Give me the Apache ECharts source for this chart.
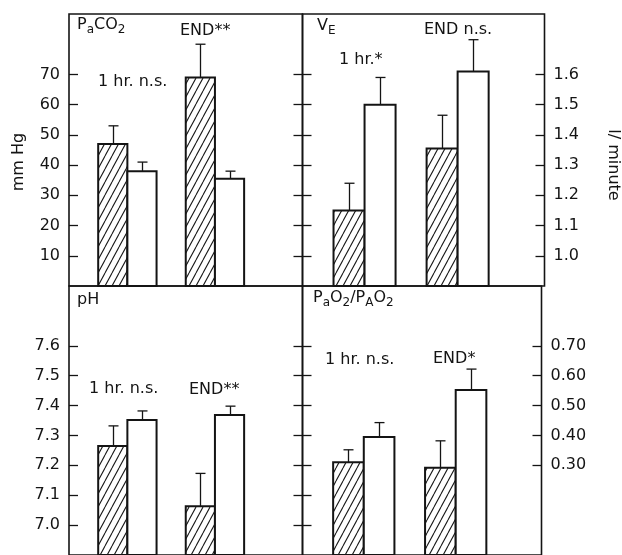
<!DOCTYPE html>
<html><head><meta charset="utf-8">
<script src="https://cdn.jsdelivr.net/npm/echarts@6/dist/echarts.min.js"></script>
<style>html,body{margin:0;padding:0;background:#fff}#c{width:622px;height:555px}</style>
</head><body><div id="c"></div>
<script>
// ---------- data ----------
const categories = ['1 hr', 'END'];
// PaCO2 (mm Hg)
const paco2Hatched = [47, 69];
const paco2HatchedSD = [6, 11];
const paco2Open = [38, 35.5];
const paco2OpenSD = [3, 2.5];
// VE (l/minute)
const veHatched = [1.15, 1.355];
const veHatchedSD = [0.09, 0.11];
const veOpen = [1.50, 1.61];
const veOpenSD = [0.09, 0.105];
// pH
const phHatched = [7.265, 7.063];
const phHatchedSD = [0.067, 0.11];
const phOpen = [7.352, 7.368];
const phOpenSD = [0.03, 0.03];
// PaO2/PAO2
const ratioHatched = [0.31, 0.292];
const ratioHatchedSD = [0.042, 0.09];
const ratioOpen = [0.395, 0.552];
const ratioOpenSD = [0.048, 0.07];
// tick values
const paco2Ticks = [10, 20, 30, 40, 50, 60, 70];
const veTicks = [1.0, 1.1, 1.2, 1.3, 1.4, 1.5, 1.6];
const phTicks = [7.0, 7.1, 7.2, 7.3, 7.4, 7.5, 7.6];
const ratioLabelTicks = [0.30, 0.40, 0.50, 0.60, 0.70];
const ratioMidTicks = [0.1, 0.2, 0.3, 0.4, 0.5, 0.6, 0.7];

// ---------- style / layout ----------
const FONT = '"DejaVu Sans", "Liberation Sans", Arial, sans-serif';
const INK = '#141414';
const GROUP_X = [2, 5];   // group centre on the hidden x scale
const BAR_W = 1;

function makeHatch() {
  const c = document.createElement('canvas');
  const w = 7, h = 13;
  c.width = w; c.height = h;
  const g = c.getContext('2d');
  g.fillStyle = '#fff'; g.fillRect(0, 0, w, h);
  g.strokeStyle = '#1a1a1a'; g.lineWidth = 1.1;
  g.beginPath();
  for (let k = -1; k <= 1; k++) { g.moveTo(k * w, h); g.lineTo(k * w + w, 0); }
  g.stroke();
  return c;
}
const hatch = { image: makeHatch(), repeat: 'repeat' };

function barRender(kind, base) {
  return function (params, api) {
    const idx = api.value(0), v = api.value(1), sd = api.value(2);
    const cx = GROUP_X[idx];
    const x0 = kind === 0 ? cx - BAR_W : cx;
    const pTop = api.coord([x0, v]);
    const pBot = api.coord([x0 + BAR_W, base]);
    const pErr = api.coord([x0 + BAR_W / 2, v + sd]);
    const xm = Math.round(pErr[0]) + 0.5;
    return {
      type: 'group',
      children: [
        { type: 'line', shape: { x1: xm, y1: pTop[1], x2: xm, y2: pErr[1] },
          style: { stroke: INK, lineWidth: 1.3 } },
        { type: 'line', shape: { x1: xm - 5, y1: pErr[1], x2: xm + 5, y2: pErr[1] },
          style: { stroke: INK, lineWidth: 1.3 } },
        { type: 'rect',
          shape: { x: pTop[0], y: pTop[1], width: pBot[0] - pTop[0], height: pBot[1] - pTop[1] },
          style: { fill: kind === 0 ? hatch : '#fff', stroke: INK, lineWidth: 2 } }
      ]
    };
  };
}

function seriesFor(gridIdx, vals, sds, kind, base) {
  return {
    type: 'custom',
    xAxisIndex: gridIdx,
    yAxisIndex: gridIdx * 2,
    renderItem: barRender(kind, base),
    data: categories.map((c, i) => [i, vals[i], sds[i]]),
    clip: false,
    silent: true
  };
}

const grids = [
  { left: 69, top: 14, width: 233.5, height: 272 },
  { left: 302.5, top: 14, width: 242, height: 272 },
  { left: 69, top: 286, width: 233.5, height: 272 },
  { left: 302.5, top: 286, width: 239, height: 272 }
].map(g => Object.assign(g, { show: true, borderColor: INK, borderWidth: 1.6, backgroundColor: 'transparent' }));

const xAxes = [0, 1, 2, 3].map(i => ({
  type: 'value', gridIndex: i, min: 0, max: (i % 2 === 0) ? 8 : 7.8, show: false
}));

function yAx(gridIdx, position, min, max, tickVals, labelVals, fmt, inside) {
  return {
    type: 'value', gridIndex: gridIdx, position: position, min: min, max: max,
    splitLine: { show: false },
    axisLine: { show: false },
    axisTick: { show: true, inside: inside, length: 9, lineStyle: { color: INK, width: 1.3 }, customValues: tickVals },
    axisLabel: labelVals ? {
      show: true, customValues: labelVals, formatter: fmt, color: INK,
      fontFamily: FONT, fontSize: 16, margin: 9
    } : { show: false }
  };
}

const f1 = v => (+v).toFixed(1);
const f0 = v => String(Math.round(v));
const f2 = v => (+v).toFixed(2);

const yAxes = [
  yAx(0, 'left', 0, 90, paco2Ticks, paco2Ticks, f0, true),
  yAx(0, 'right', 0, 90, paco2Ticks, null, null, true),
  yAx(1, 'left', 0.9, 1.8, veTicks, null, null, true),
  yAx(1, 'right', 0.9, 1.8, veTicks, veTicks, f1, true),
  yAx(2, 'left', 6.9, 7.8, phTicks, phTicks, f1, true),
  yAx(2, 'right', 6.9, 7.8, phTicks, null, null, true),
  yAx(3, 'left', 0, 0.9, ratioMidTicks, null, null, true),
  yAx(3, 'right', 0, 0.9, ratioLabelTicks, ratioLabelTicks, f2, true)
];

const series = [
  seriesFor(0, paco2Hatched, paco2HatchedSD, 0, 0),
  seriesFor(0, paco2Open, paco2OpenSD, 1, 0),
  seriesFor(1, veHatched, veHatchedSD, 0, 0.9),
  seriesFor(1, veOpen, veOpenSD, 1, 0.9),
  seriesFor(2, phHatched, phHatchedSD, 0, 6.9),
  seriesFor(2, phOpen, phOpenSD, 1, 6.9),
  seriesFor(3, ratioHatched, ratioHatchedSD, 0, 0),
  seriesFor(3, ratioOpen, ratioOpenSD, 1, 0)
];

const rich = {
  m: { fontFamily: FONT, fontSize: 16, lineHeight: 20, verticalAlign: 'top', fill: INK },
  s: { fontFamily: FONT, fontSize: 12, lineHeight: 20, verticalAlign: 'top', padding: [7, 0, 0, 0], fill: INK }
};
function label(x, y, text, opts) {
  return Object.assign({
    type: 'text', x: x, y: y, silent: true,
    style: { text: text, fontFamily: FONT, fontSize: 16, fill: INK, verticalAlign: 'middle', align: 'left' }
  }, opts || {});
}
function richLabel(x, y, text) {
  return { type: 'text', x: x, y: y, silent: true,
    style: { text: text, rich: rich, fill: INK, verticalAlign: 'top', align: 'left' } };
}

const graphic = [
  richLabel(77, 17, '{m|P}{s|a}{m|CO}{s|2}'),
  label(180, 31, 'END**'),
  label(98, 81.5, '1 hr. n.s.'),
  richLabel(317, 18, '{m|V}{s|E}'),
  label(424, 29.5, 'END n.s.'),
  label(339, 60, '1 hr.*'),
  label(77, 300, 'pH'),
  label(89, 389, '1 hr. n.s.'),
  label(189, 390, 'END**'),
  richLabel(313, 290, '{m|P}{s|a}{m|O}{s|2}{m|/P}{s|A}{m|O}{s|2}'),
  label(325, 360, '1 hr. n.s.'),
  label(433, 359, 'END*'),
  { type: 'text', x: 19, y: 162, rotation: Math.PI / 2, silent: true,
    style: { text: 'mm Hg', fontFamily: FONT, fontSize: 16, fill: INK, align: 'center', verticalAlign: 'middle' } },
  { type: 'text', x: 613, y: 165, rotation: -Math.PI / 2, silent: true,
    style: { text: 'l/ minute', fontFamily: FONT, fontSize: 16, fill: INK, align: 'center', verticalAlign: 'middle' } }
];

const chart = echarts.init(document.getElementById('c'), null, { renderer: 'canvas' });
chart.setOption({
  animation: false,
  backgroundColor: '#fff',
  grid: grids,
  xAxis: xAxes,
  yAxis: yAxes,
  series: series,
  graphic: graphic
});
</script>
</body></html>
